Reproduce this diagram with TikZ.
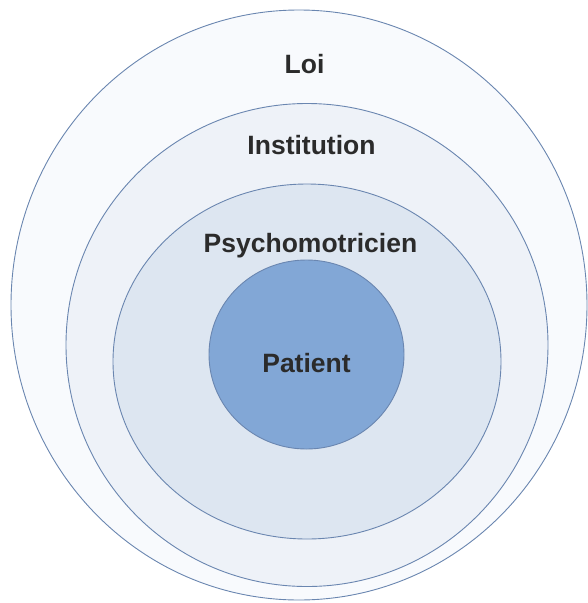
\documentclass[tikz,border=0pt]{standalone}
\usepackage{fontspec}
\setmainfont{Liberation Sans}
\usetikzlibrary{shapes}
\definecolor{ringline}{HTML}{6A86B0}
\definecolor{loifill}{HTML}{F8FAFD}
\definecolor{instfill}{HTML}{EEF2F8}
\definecolor{psyfill}{HTML}{DDE6F1}
\definecolor{patfill}{HTML}{82A7D6}
\definecolor{labeltext}{HTML}{2B2B2B}
\begin{document}
\begin{tikzpicture}[x=1pt, y=-1pt,
  ring/.style={ellipse, draw=ringline, line width=0.9pt, inner sep=0pt},
  lab/.style={anchor=base, text=labeltext, font=\fontsize{26.5}{30}\selectfont\bfseries, inner sep=0pt}]
  \useasboundingbox (0,0) rectangle (588,603);

  \node[ring, fill=loifill, minimum width=576pt, minimum height=590pt] (loi) at (299,305) {};
  \node[ring, fill=instfill, minimum width=482pt, minimum height=483pt] (inst) at (307,345) {};
  \node[ring, fill=psyfill, minimum width=388pt, minimum height=355pt] (psy) at (307,361.5) {};
  \node[ring, fill=patfill, minimum width=195pt, minimum height=189pt] (pat) at (306.5,354.5) {};

  \node[lab] (loitext) at (304.5,73.5) {Loi};
  \node[lab] (insttext) at (311.5,154) {Institution};
  \node[lab] (psytext) at (310.5,252) {Psychomotricien};
  \node[lab] (pattext) at (306.5,372) {Patient};
\end{tikzpicture}
\end{document}
